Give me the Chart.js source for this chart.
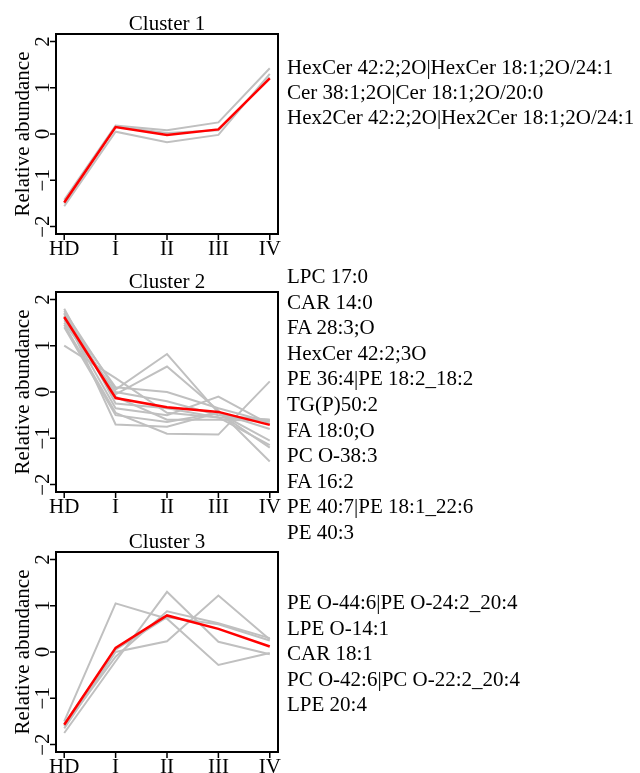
<!DOCTYPE html>
<html>
<head>
<meta charset="utf-8">
<script src="https://cdn.jsdelivr.net/npm/chart.js@4"></script>
<style>
  body { margin: 0; background: #fff; width: 640px; height: 773px; overflow: hidden; position: relative; }
  canvas { position: absolute; left: 0; }
  .names { position: absolute; left: 287px; font: 21px "Liberation Serif", "Times New Roman", serif; color: #000; white-space: nowrap; }
</style>
</head>
<body>
<canvas id="c1" width="640" height="258" style="top:0px"></canvas>
<canvas id="c2" width="640" height="258" style="top:258px"></canvas>
<canvas id="c3" width="640" height="258" style="top:518px"></canvas>
<div class="names" id="n1" style="top:55px; line-height:25px"></div>
<div class="names" id="n2" style="top:264px; line-height:25.6px"></div>
<div class="names" id="n3" style="top:590px; line-height:25.6px"></div>
<script>
// stages on the x axis and y ticks
const stages = ['HD', 'I', 'II', 'III', 'IV'];
const yTicks = [-2, -1, 0, 1, 2];

// Cluster 1
const c1Names = ['HexCer 42:2;2O|HexCer 18:1;2O/24:1', 'Cer 38:1;2O|Cer 18:1;2O/20:0', 'Hex2Cer 42:2;2O|Hex2Cer 18:1;2O/24:1'];
const c1Lines = [
  [-1.42, 0.18, 0.08, 0.25, 1.42],
  [-1.56, 0.05, -0.18, -0.02, 1.30],
  [-1.50, 0.16, 0.02, 0.08, 1.22]
];
const c1Mean = [-1.48, 0.15, -0.02, 0.10, 1.20];

// Cluster 2
const c2Names = ['LPC 17:0', 'CAR 14:0', 'FA 28:3;O', 'HexCer 42:2;3O', 'PE 36:4|PE 18:2_18:2', 'TG(P)50:2',
  'FA 18:0;O', 'PC O-38:3', 'FA 16:2', 'PE 40:7|PE 18:1_22:6', 'PE 40:3'];
const c2Lines = [
  [1.75, 0.05, 0.82, -0.45, -1.20],
  [1.50, -0.05, 0.55, -0.40, -1.50],
  [1.00, 0.30, -0.45, -0.55, -0.60],
  [1.70, -0.70, -0.75, -0.45, -1.05],
  [1.45, -0.45, -0.90, -0.92, 0.23],
  [1.65, 0.10, 0.00, -0.35, -0.65],
  [1.60, -0.35, -0.50, -0.10, -0.70],
  [1.80, -0.25, -0.35, -0.55, -1.15],
  [1.55, 0.00, -0.20, -0.50, -0.60],
  [1.70, -0.10, -0.60, -0.60, -0.62],
  [1.40, -0.50, -0.65, -0.45, -0.80]
];
const c2Mean = [1.62, -0.13, -0.33, -0.43, -0.71];

// Cluster 3
const c3Names = ['PE O-44:6|PE O-24:2_20:4', 'LPE O-14:1', 'CAR 18:1', 'PC O-42:6|PC O-22:2_20:4', 'LPE 20:4'];
const c3Lines = [
  [-1.50, 1.05, 0.72, -0.28, -0.02],
  [-1.65, 0.00, 0.23, 1.22, 0.27],
  [-1.75, -0.20, 1.30, 0.22, -0.05],
  [-1.60, -0.10, 0.88, 0.62, 0.30],
  [-1.55, 0.05, 0.75, 0.60, 0.25]
];
const c3Mean = [-1.57, 0.09, 0.79, 0.50, 0.12];

const FONT = '21px "Liberation Serif", "Times New Roman", serif';

// draws the R-style box, axes and labels from the chart's scales
const rAxes = {
  id: 'rAxes',
  afterDraw(chart, args, opts) {
    const ctx = chart.ctx;
    const a = chart.chartArea;
    const xs = chart.scales.x, ys = chart.scales.y;
    ctx.save();
    ctx.strokeStyle = '#000';
    ctx.fillStyle = '#000';
    ctx.lineWidth = 2;
    ctx.strokeRect(a.left, a.top, a.right - a.left, a.bottom - a.top);
    ctx.lineWidth = 1.5;
    ctx.beginPath();
    stages.forEach((s, i) => {
      const px = xs.getPixelForValue(i);
      ctx.moveTo(px, a.bottom); ctx.lineTo(px, a.bottom + 6);
    });
    yTicks.forEach(v => {
      const py = ys.getPixelForValue(v);
      ctx.moveTo(a.left, py); ctx.lineTo(a.left - 6, py);
    });
    ctx.stroke();
    ctx.font = FONT;
    ctx.textAlign = 'center';
    ctx.textBaseline = 'alphabetic';
    stages.forEach((s, i) => ctx.fillText(s, xs.getPixelForValue(i), a.bottom + 21));
    ctx.fillText(opts.title, (a.left + a.right) / 2, a.top - 4);
    yTicks.forEach(v => {
      ctx.save();
      ctx.translate(49, ys.getPixelForValue(v));
      ctx.rotate(-Math.PI / 2);
      ctx.fillText(v < 0 ? '\u2212' + Math.abs(v) : String(v), 0, 0);
      ctx.restore();
    });
    ctx.save();
    ctx.translate(29, (a.top + a.bottom) / 2);
    ctx.rotate(-Math.PI / 2);
    ctx.fillText('Relative abundance', 0, 0);
    ctx.restore();
    ctx.restore();
  }
};

function makePanel(id, title, lines, mean) {
  const datasets = [{
    data: mean.map((v, i) => ({ x: i, y: v })),
    borderColor: '#ff0000',
    borderWidth: 2.5,
    order: 0
  }];
  lines.forEach(l => datasets.push({
    data: l.map((v, i) => ({ x: i, y: v })),
    borderColor: '#c0c0c0',
    borderWidth: 2,
    order: 1
  }));
  new Chart(document.getElementById(id), {
    type: 'line',
    data: { datasets },
    options: {
      responsive: false,
      animation: false,
      devicePixelRatio: 1,
      layout: { padding: { left: 56, right: 362, top: 34, bottom: 24 } },
      elements: { point: { radius: 0 }, line: { tension: 0 } },
      plugins: { legend: { display: false }, tooltip: { enabled: false }, rAxes: { title } },
      scales: {
        x: { type: 'linear', min: -0.16, max: 4.16, display: false },
        y: { type: 'linear', min: -2.16, max: 2.16, display: false }
      }
    },
    plugins: [rAxes]
  });
}

makePanel('c1', 'Cluster 1', c1Lines, c1Mean);
makePanel('c2', 'Cluster 2', c2Lines, c2Mean);
makePanel('c3', 'Cluster 3', c3Lines, c3Mean);

document.getElementById('n1').innerHTML = c1Names.map(n => '<div>' + n + '</div>').join('');
document.getElementById('n2').innerHTML = c2Names.map(n => '<div>' + n + '</div>').join('');
document.getElementById('n3').innerHTML = c3Names.map(n => '<div>' + n + '</div>').join('');
</script>
</body>
</html>
